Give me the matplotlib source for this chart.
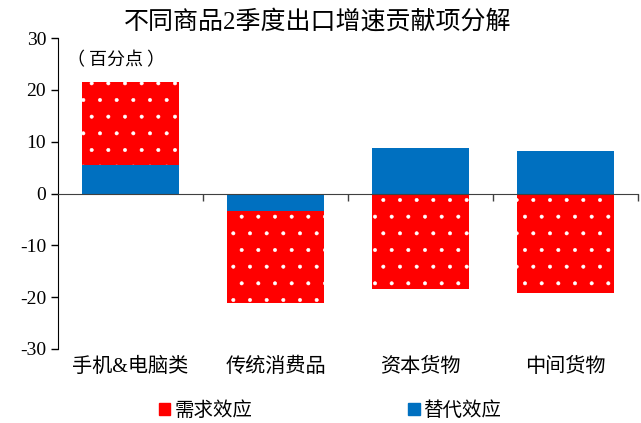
import matplotlib.pyplot as plt
from matplotlib.patches import Patch
import numpy as np

plt.rcParams['font.family'] = ['Liberation Serif', 'Noto Sans CJK SC']
plt.rcParams['hatch.linewidth'] = 0.4

categories = ["手机&电脑类", "传统消费品", "资本货物", "中间货物"]
substitution = [5.5, -3.4, 8.8, 8.2]   # 替代效应
demand = [16.0, -17.7, -18.4, -19.2]   # 需求效应

x = np.arange(len(categories))
# demand is stacked on top of substitution when both share a sign
demand_base = [s if (s > 0) == (d > 0) else 0 for s, d in zip(substitution, demand)]

fig = plt.figure(figsize=(6.41, 4.23), dpi=100)
ax = fig.add_axes([0.0905, 0.175, 0.9045, 0.735])

red = "#ff0000"
blue = "#0070c0"
ax.bar(x, substitution, width=0.67, color=blue, zorder=2)
ax.bar(x, demand, width=0.67, bottom=demand_base, color=red, hatch='.',
       edgecolor='white', linewidth=0, zorder=2)

ax.set_xlim(-0.5, 3.5)
ax.set_ylim(-30, 30)
ax.set_yticks(range(-30, 31, 10))
ax.set_yticklabels([str(v) if v >= 0 else "-" + str(-v) for v in range(-30, 31, 10)])
ax.tick_params(axis='y', labelsize=14, direction='out', length=5, width=1)

ax.spines['top'].set_visible(False)
ax.spines['right'].set_visible(False)
ax.spines['bottom'].set_position(('data', 0))
ax.spines['bottom'].set_color('#404040')
ax.spines['bottom'].set_zorder(3)
ax.set_xticks([0.5, 1.5, 2.5, 3.5])
ax.set_xticklabels([])
ax.tick_params(axis='x', direction='out', length=5, width=1, color='#404040')

for xi, name in zip(x, categories):
    ax.text(xi, -33.5, name, ha='center', va='center', fontsize=14.5, clip_on=False)

ax.text(0.015, 0.93, "（ 百分点 ）", transform=ax.transAxes, fontsize=13,
        ha='left', va='center', family=['Noto Sans CJK SC'])

fig.text(0.495, 0.948, "不同商品2季度出口增速贡献项分解", ha='center', va='center',
         fontsize=18)

handles = [Patch(color=red, label="需求效应"), Patch(color=blue, label="替代效应")]
fig.legend(handles=handles, loc='center', bbox_to_anchor=(0.515, 0.03), ncol=2,
           frameon=False, fontsize=14, columnspacing=8, handlelength=0.6,
           handleheight=0.6, handletextpad=0.2)

fig.savefig("out.png", dpi=100)
